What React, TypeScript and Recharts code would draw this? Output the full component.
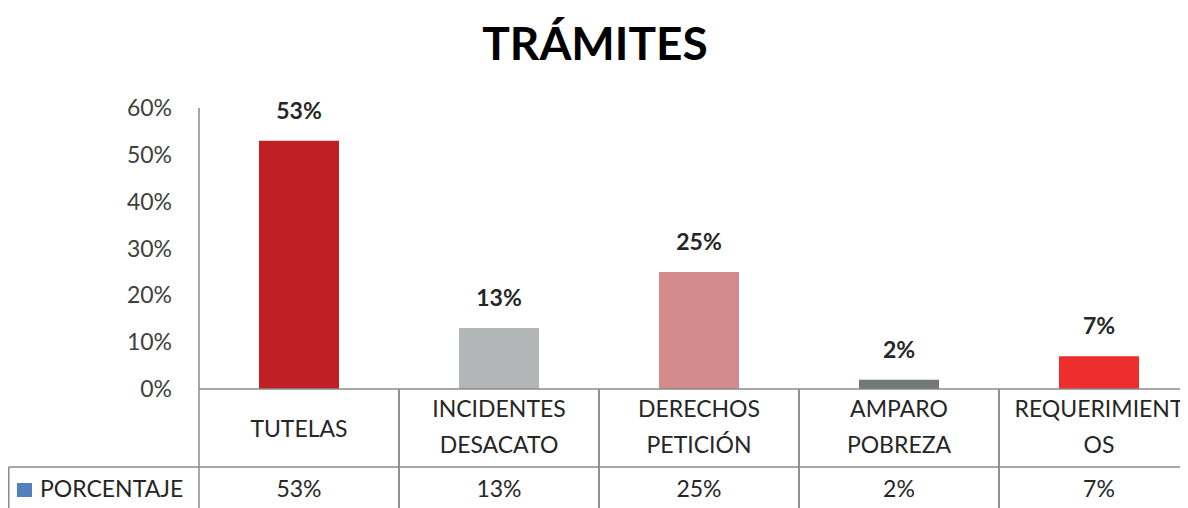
import React from 'react';
import { BarChart, Bar, XAxis, YAxis, Cell, LabelList } from 'recharts';

const categories = ['TUTELAS', 'INCIDENTES\nDESACATO', 'DERECHOS\nPETICIÓN', 'AMPARO\nPOBREZA', 'REQUERIMIENT\nOS'];
const porcentaje = [53, 13, 25, 2, 7];
const barColors = ['#C11F26', '#B3B6B6', '#D38C8B', '#727779', '#EE2D2D'];
const yTicks = [0, 10, 20, 30, 40, 50, 60];
const seriesName = 'PORCENTAJE';
const title = 'TRÁMITES';

const data = categories.map((c, i) => ({ name: c, value: porcentaje[i] }));

const CHART_W = 1200;
const CHART_H = 500;
const Y_W = 191;
const MARGIN_R = 9;
const ROW_H = 78;
const FONT = 'Lato, "Open Sans", sans-serif';
const LINE = '#8a8a8a';

const bandWidth = (CHART_W - Y_W - MARGIN_R) / categories.length;

const TableTick = (props: any) => {
  const { x, y, payload, index } = props;
  const left = x - bandWidth / 2;
  const right = x + bandWidth / 2;
  const lines = String(payload.value).split('\n');
  const val = porcentaje[index];
  return (
    <g>
      <line x1={left} y1={y} x2={left} y2={y + ROW_H * 2} stroke={LINE} strokeWidth={1.5} />
      <line x1={right} y1={y} x2={right} y2={y + ROW_H * 2} stroke={LINE} strokeWidth={1.5} />
      <line x1={left} y1={y + ROW_H} x2={right} y2={y + ROW_H} stroke={LINE} strokeWidth={1.5} />
      {lines.length === 1 ? (
        <text x={x} y={y + 48} textAnchor="middle" fontFamily={FONT} fontSize={23} fill="#262626">
          {lines[0]}
        </text>
      ) : (
        lines.map((l, k) => (
          <text key={k} x={x} y={y + 28 + k * 36} textAnchor="middle" fontFamily={FONT} fontSize={23} fill="#262626">
            {l}
          </text>
        ))
      )}
      <text x={x} y={y + ROW_H + 30} textAnchor="middle" fontFamily={FONT} fontSize={23} fill="#262626">
        {`${val}%`}
      </text>
      {index === 0 && (
        <g>
          <line x1={0.75} y1={y + ROW_H} x2={left} y2={y + ROW_H} stroke={LINE} strokeWidth={1.5} />
          <line x1={0.75} y1={y + ROW_H} x2={0.75} y2={y + ROW_H * 2} stroke={LINE} strokeWidth={1.5} />
          <rect x={9} y={y + ROW_H + 16} width={15} height={14} fill="#4F81BD" />
          <text x={32} y={y + ROW_H + 30} fontFamily={FONT} fontSize={23} fill="#262626">
            {seriesName}
          </text>
        </g>
      )}
    </g>
  );
};

export default function App() {
  return (
    <div style={{ position: 'relative', width: 1180, height: 500, overflow: 'hidden', background: '#fff' }}>
      <div
        style={{
          position: 'absolute',
          left: 0,
          top: 10,
          width: 1174,
          textAlign: 'center',
          fontFamily: FONT,
          fontWeight: 700,
          fontSize: 46,
          color: '#000',
          lineHeight: '50px',
        }}
      >
        {title}
      </div>
      <BarChart
        width={CHART_W}
        height={CHART_H}
        data={data}
        margin={{ top: 100, right: MARGIN_R, left: 0, bottom: 0 }}
        barCategoryGap="30%"
      >
        <YAxis
          width={Y_W}
          domain={[0, 60]}
          ticks={yTicks}
          tickFormatter={(v: number) => `${v}%`}
          tickLine={false}
          tickSize={0}
          tickMargin={27}
          axisLine={{ stroke: LINE, strokeWidth: 1.5 }}
          tick={{ fontFamily: FONT, fontSize: 23, fill: '#404040' }}
        />
        <XAxis
          dataKey="name"
          height={119}
          interval={0}
          tickLine={false}
          tickSize={0}
          tickMargin={0}
          axisLine={{ stroke: LINE, strokeWidth: 1.5 }}
          tick={<TableTick />}
        />
        <Bar dataKey="value" isAnimationActive={false}>
          {data.map((d, i) => (
            <Cell key={i} fill={barColors[i]} />
          ))}
          <LabelList
            dataKey="value"
            position="top"
            offset={22}
            formatter={(v: any) => `${v}%`}
            style={{ fontFamily: FONT, fontSize: 23, fontWeight: 700, fill: '#262626' }}
          />
        </Bar>
      </BarChart>
    </div>
  );
}
